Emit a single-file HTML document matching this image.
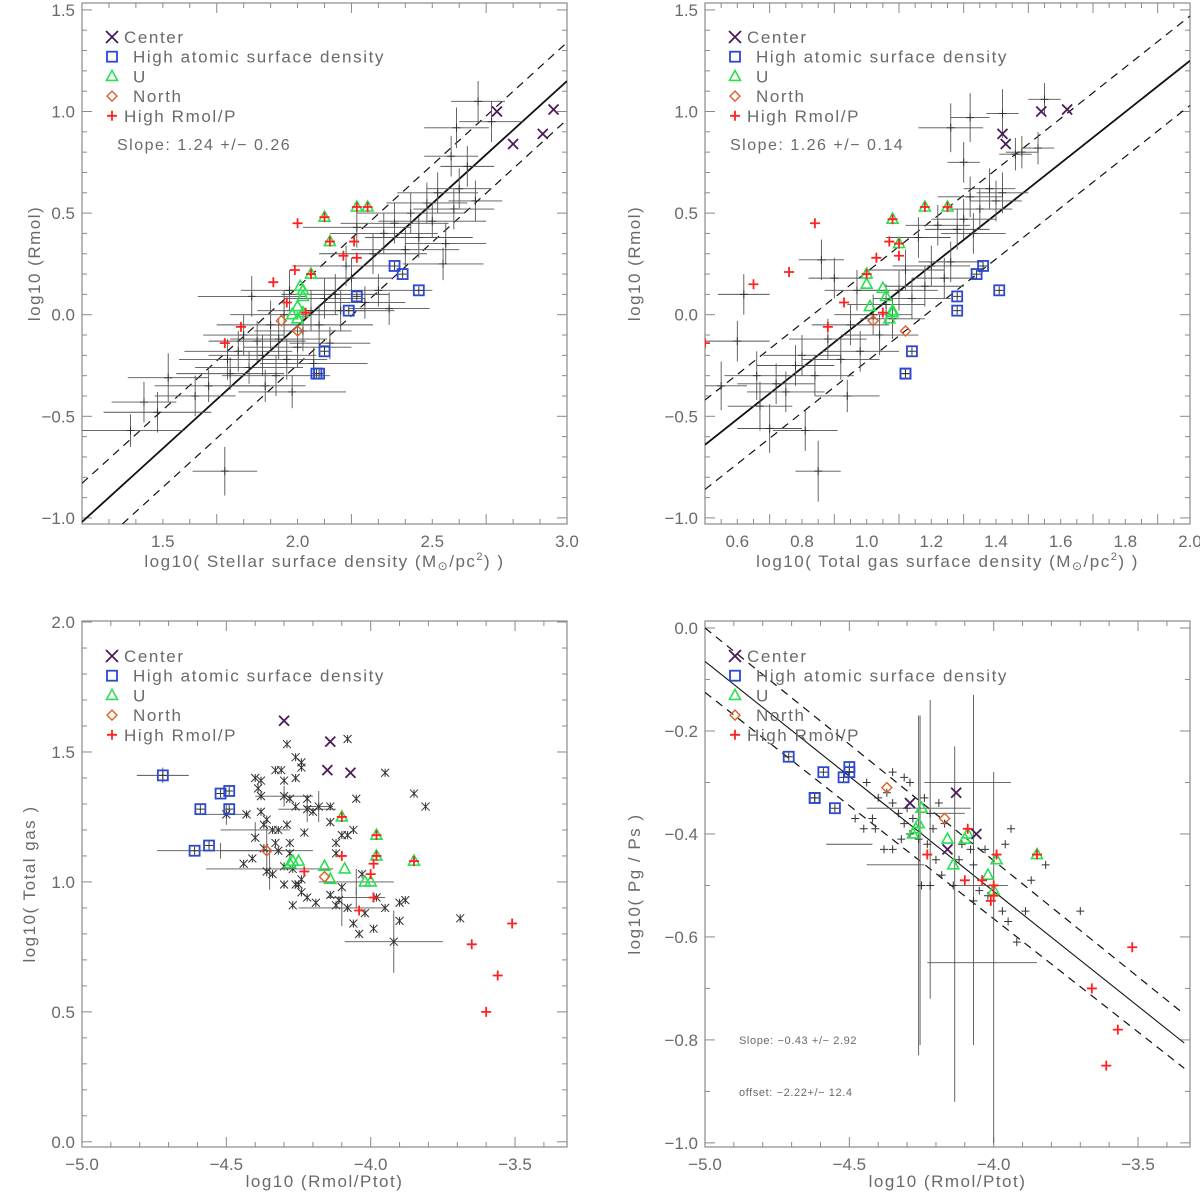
<!DOCTYPE html>
<html><head><meta charset="utf-8"><style>
html,body{margin:0;padding:0;background:#fff}
svg{display:block}
text{font-family:"Liberation Sans",sans-serif;fill:#6a6a6a}
</style></head><body>
<svg id="fig" width="1200" height="1194" viewBox="0 0 1200 1194" xmlns="http://www.w3.org/2000/svg"></svg>
<script>
// ---------- Panel A: Rmol vs stellar surface density ----------
const aGray=[[1.38,-0.57,0.2,0.08],[1.52,-0.31,0.15,0.12],[1.48,-0.48,0.2,0.1],[1.43,-0.43,0.12,0.1],[1.73,-0.77,0.12,0.12],[1.62,-0.40,0.15,0.1],[1.67,-0.35,0.2,0.08],[1.74,-0.22,0.18,0.1],[1.75,-0.29,0.2,0.08],[1.78,-0.18,0.2,0.1],[1.80,-0.10,0.15,0.1],[1.83,0.09,0.2,0.1],[1.82,-0.26,0.2,0.08],[1.85,-0.13,0.18,0.1],[1.87,-0.20,0.2,0.1],[1.88,-0.35,0.15,0.08],[1.90,-0.05,0.2,0.12],[1.92,-0.30,0.2,0.1],[1.93,-0.12,0.18,0.1],[1.95,0.00,0.2,0.12],[1.96,-0.22,0.15,0.1],[1.97,0.12,0.18,0.1],[1.98,-0.38,0.2,0.08],[2.00,-0.16,0.2,0.1],[2.02,-0.08,0.18,0.1],[2.05,0.02,0.2,0.1],[2.06,-0.24,0.2,0.08],[2.08,-0.05,0.2,0.1],[2.10,0.08,0.15,0.1],[2.12,-0.14,0.15,0.08],[2.14,0.10,0.2,0.1],[2.16,0.02,0.2,0.1],[2.18,0.24,0.2,0.1],[2.20,0.18,0.15,0.1],[2.22,0.43,0.2,0.1],[2.25,0.06,0.15,0.08],[2.28,0.30,0.2,0.1],[2.30,0.12,0.2,0.08],[2.32,0.40,0.2,0.1],[2.34,0.03,0.15,0.08],[2.36,0.45,0.2,0.1],[2.40,0.32,0.2,0.1],[2.42,0.50,0.2,0.1],[2.45,0.38,0.2,0.1],[2.48,0.55,0.15,0.1],[2.50,0.46,0.2,0.08],[2.52,0.60,0.15,0.1],[2.54,0.25,0.15,0.08],[2.55,0.35,0.15,0.1],[2.58,0.52,0.15,0.1],[2.60,0.62,0.12,0.1],[2.57,0.78,0.1,0.1],[2.59,0.92,0.12,0.1],[2.63,0.73,0.1,0.1],[2.67,1.05,0.1,0.1],[2.72,0.95,0.12,0.1],[2.66,0.56,0.1,0.1]];
const aCenter=[[2.74,1.00],[2.80,0.84],[2.91,0.89],[2.95,1.01]];
const aBlue=[[2.36,0.24],[2.39,0.20],[2.45,0.12],[2.22,0.09],[2.19,0.02],[2.10,-0.18],[2.07,-0.29],[2.08,-0.29]];
const aGreen=[[2.10,0.48],[2.22,0.53],[2.26,0.53],[2.12,0.36],[2.05,0.20],[2.01,0.14],[2.02,0.12],[2.00,0.04],[2.02,0.09],[1.98,0.00],[2.02,0.01],[2.00,-0.02]];
const aOrange=[[1.94,-0.03],[2.00,-0.08]];
const aRed=[[2.00,0.45],[2.21,0.36],[2.17,0.29],[2.22,0.28],[1.99,0.22],[1.91,0.16],[1.96,0.06],[1.79,-0.06],[1.73,-0.14],[2.05,0.20],[2.10,0.48],[2.22,0.53],[2.26,0.53],[2.12,0.36],[2.03,0.01]];
const aFit=[[1.2,-1.02],[3.0,1.15]];
const aFitHi=[[1.2,-0.83],[3.0,1.34]];
const aFitLo=[[1.35,-1.03],[3.0,0.96]];
const aXTicks=["1.5","2.0","2.5","3.0"];
const aYTicks=["-1.0","-0.5","0.0","0.5","1.0","1.5"];

// ---------- Panel B: Rmol vs total gas ----------
const bGray=[[0.55,-0.35,0.08,0.12],[0.60,-0.13,0.1,0.1],[0.62,0.10,0.08,0.1],[0.66,-0.30,0.1,0.12],[0.67,-0.45,0.1,0.12],[0.70,-0.56,0.1,0.12],[0.72,-0.34,0.12,0.1],[0.75,-0.38,0.12,0.1],[0.78,-0.25,0.12,0.1],[0.80,-0.20,0.12,0.1],[0.81,-0.57,0.1,0.1],[0.84,-0.30,0.12,0.1],[0.85,-0.77,0.07,0.15],[0.86,0.27,0.07,0.1],[0.88,-0.12,0.12,0.1],[0.90,0.18,0.08,0.1],[0.92,-0.22,0.12,0.1],[0.94,-0.40,0.1,0.08],[0.95,-0.05,0.12,0.1],[0.97,0.12,0.1,0.1],[0.98,-0.18,0.12,0.1],[1.02,0.00,0.12,0.1],[1.04,-0.10,0.12,0.1],[1.06,0.05,0.12,0.1],[1.08,-0.02,0.1,0.1],[1.10,0.12,0.12,0.1],[1.12,0.22,0.12,0.1],[1.14,0.08,0.12,0.1],[1.16,0.38,0.1,0.1],[1.18,0.14,0.12,0.1],[1.20,0.24,0.12,0.1],[1.22,0.44,0.1,0.1],[1.24,0.18,0.1,0.1],[1.26,0.26,0.1,0.1],[1.28,0.42,0.1,0.1],[1.30,0.47,0.1,0.1],[1.32,0.58,0.1,0.1],[1.33,0.40,0.1,0.1],[1.35,0.52,0.1,0.1],[1.38,0.62,0.08,0.1],[1.40,0.56,0.08,0.1],[1.42,0.60,0.08,0.1],[1.30,0.75,0.05,0.1],[1.32,0.97,0.06,0.12],[1.26,0.92,0.1,0.12],[1.42,0.99,0.05,0.12],[1.48,0.80,0.05,0.08],[1.55,1.06,0.05,0.08],[1.53,0.82,0.05,0.08],[1.46,0.79,0.05,0.08]];
const bCenter=[[1.42,0.89],[1.43,0.84],[1.54,1.00],[1.62,1.01]];
const bBlue=[[1.36,0.24],[1.34,0.20],[1.41,0.12],[1.28,0.09],[1.28,0.02],[1.14,-0.18],[1.12,-0.29],[1.12,-0.29]];
const bGreen=[[1.08,0.47],[1.18,0.53],[1.25,0.53],[1.10,0.35],[1.00,0.20],[1.00,0.15],[1.05,0.13],[1.06,0.09],[1.01,0.04],[1.08,0.01],[1.07,-0.02],[1.08,0.02]];
const bOrange=[[1.02,-0.03],[1.12,-0.08]];
const bRed=[[0.84,0.45],[0.76,0.21],[0.65,0.15],[1.07,0.36],[1.10,0.29],[1.03,0.28],[1.00,0.20],[0.93,0.06],[0.88,-0.06],[1.05,0.01],[1.08,0.47],[1.18,0.53],[1.25,0.53],[1.10,0.35],[0.50,-0.14]];
const bFit=[[0.5,-0.64],[2.0,1.25]];
const bFitHi=[[0.5,-0.42],[2.0,1.47]];
const bFitLo=[[0.5,-0.86],[2.0,1.03]];
const bXTicks=["0.6","0.8","1.0","1.2","1.4","1.6","1.8","2.0"];

// ---------- Panel C: total gas vs Rmol/Ptot ----------
const cGray=[[-4.29,1.53],[-4.08,1.55],[-3.95,1.42],[-4.26,1.48],[-4.24,1.46],[-4.24,1.44],[-4.33,1.43],[-4.31,1.43],[-4.40,1.40],[-4.38,1.39],[-4.30,1.39],[-4.26,1.40],[-4.39,1.36],[-4.38,1.33],[-4.30,1.33],[-4.28,1.32],[-4.22,1.32],[-3.85,1.34],[-3.81,1.29],[-4.05,1.32],[-4.14,1.29],[-4.26,1.29],[-4.22,1.28],[-4.18,1.29],[-4.20,1.27],[-4.38,1.27],[-4.43,1.26],[-4.50,1.26],[-4.36,1.24],[-4.37,1.22],[-4.29,1.22],[-4.14,1.23],[-4.06,1.20],[-4.34,1.20],[-4.32,1.20],[-4.23,1.19],[-4.40,1.17],[-4.10,1.18],[-4.08,1.18],[-4.33,1.15],[-4.28,1.15],[-4.12,1.15],[-4.37,1.13],[-4.32,1.12],[-4.28,1.11],[-4.12,1.11],[-4.41,1.09],[-4.44,1.07],[-4.30,1.06],[-4.27,1.05],[-4.36,1.04],[-4.34,1.03],[-4.24,1.01],[-4.30,0.99],[-4.26,0.99],[-4.25,0.99],[-4.24,0.96],[-4.22,0.94],[-4.14,0.95],[-4.11,0.93],[-4.10,0.98],[-4.27,0.91],[-4.19,0.92],[-4.12,0.91],[-4.08,0.90],[-4.03,1.03],[-4.02,0.88],[-3.98,0.94],[-3.95,0.90],[-3.90,0.92],[-3.88,0.93],[-3.90,0.85],[-4.06,0.84],[-4.04,0.80],[-3.99,0.82],[-3.92,0.77],[-3.69,0.86]];
const cErr=[[-4.72,1.41,0.09,0.03],[-4.35,1.05,0.22,0.08],[-4.30,1.33,0.10,0.04],[-4.22,1.28,0.10,0.05],[-4.40,1.20,0.12,0.03],[-4.36,1.12,0.16,0.10],[-4.52,1.12,0.22,0.03],[-4.05,1.00,0.13,0.05],[-3.92,0.77,0.17,0.12],[-4.10,0.90,0.15,0.07],[-4.05,0.94,0.10,0.04],[-4.50,1.26,0.08,0.04],[-4.18,1.29,0.05,0.06]];
const cCenter=[[-4.30,1.62],[-4.14,1.54],[-4.15,1.43],[-4.07,1.42]];
const cBlue=[[-4.72,1.41],[-4.52,1.34],[-4.49,1.35],[-4.59,1.28],[-4.49,1.28],[-4.61,1.12],[-4.56,1.14]];
const cGreen=[[-4.10,1.25],[-3.98,1.18],[-3.98,1.10],[-3.85,1.08],[-4.27,1.08],[-4.25,1.08],[-4.28,1.07],[-4.16,1.06],[-4.09,1.05],[-4.14,1.01],[-4.02,1.00],[-4.00,1.00]];
const cOrange=[[-4.36,1.12],[-4.16,1.02]];
const cRed=[[-4.10,1.10],[-3.99,1.07],[-4.00,1.03],[-3.99,0.94],[-4.04,0.89],[-4.23,1.04],[-3.65,0.76],[-3.51,0.84],[-3.56,0.64],[-3.60,0.50],[-4.10,1.25],[-3.98,1.18],[-3.98,1.10],[-3.85,1.08]];
const cXTicks=["-5.0","-4.5","-4.0","-3.5"];
const cYTicks=["0.0","0.5","1.0","1.5","2.0"];

// ---------- Panel D: Pg/Ps vs Rmol/Ptot ----------
const dGray=[[-4.44,-0.30],[-4.40,-0.33],[-4.42,-0.37],[-4.37,-0.32],[-4.35,-0.34],[-4.33,-0.36],[-4.31,-0.29],[-4.29,-0.30],[-4.35,-0.28],[-4.30,-0.35],[-4.28,-0.37],[-4.45,-0.39],[-4.41,-0.39],[-4.48,-0.37],[-4.38,-0.43],[-4.35,-0.43],[-4.32,-0.41],[-4.29,-0.40],[-4.31,-0.38],[-4.26,-0.41],[-4.24,-0.33],[-4.22,-0.36],[-4.21,-0.39],[-4.23,-0.42],[-4.20,-0.45],[-4.18,-0.48],[-4.22,-0.50],[-4.25,-0.50],[-4.12,-0.45],[-4.11,-0.42],[-4.08,-0.43],[-4.07,-0.46],[-4.05,-0.51],[-4.07,-0.53],[-4.03,-0.43],[-3.96,-0.42],[-3.94,-0.39],[-3.97,-0.55],[-3.95,-0.57],[-3.92,-0.61],[-3.89,-0.55],[-3.87,-0.49],[-3.82,-0.46],[-3.70,-0.55],[-4.02,-0.52],[-4.14,-0.50],[-4.17,-0.38],[-4.19,-0.34]];
const dErr=[[-4.26,-0.50,0,0.33],[-4.255,-0.49,0,0.32],[-4.22,-0.43,0,0.29],[-4.135,-0.575,0,0.345],[-4.09,-0.30,0.15,0],[-4.07,-0.47,0,0.34],[-4.00,-0.64,0,0.36],[-4.04,-0.65,0.19,0],[-4.26,-0.35,0.18,0],[-4.16,-0.36,0.06,0],[-4.34,-0.46,0.10,0],[-4.50,-0.42,0.08,0],[-4.05,-0.50,0.10,0]];
const dCenter=[[-4.29,-0.34],[-4.13,-0.32],[-4.16,-0.43],[-4.06,-0.40]];
const dBlue=[[-4.71,-0.25],[-4.59,-0.28],[-4.52,-0.29],[-4.50,-0.27],[-4.50,-0.28],[-4.62,-0.33],[-4.62,-0.33],[-4.55,-0.35]];
const dGreen=[[-4.25,-0.35],[-4.26,-0.38],[-4.27,-0.39],[-4.28,-0.40],[-4.16,-0.41],[-4.10,-0.41],[-4.09,-0.40],[-4.14,-0.46],[-4.02,-0.48],[-3.99,-0.45],[-3.85,-0.44],[-4.00,-0.51]];
const dOrange=[[-4.37,-0.31],[-4.17,-0.37]];
const dRed=[[-4.23,-0.44],[-4.09,-0.39],[-4.10,-0.49],[-4.04,-0.49],[-4.00,-0.50],[-4.00,-0.52],[-4.01,-0.53],[-3.99,-0.44],[-3.85,-0.44],[-3.66,-0.70],[-3.52,-0.62],[-3.57,-0.78],[-3.61,-0.85]];
const dFit=[[-5.0,-0.065],[-3.34,-0.806]];
const dFitHi=[[-5.0,0.0],[-3.34,-0.75]];
const dFitLo=[[-5.0,-0.125],[-3.34,-0.855]];
const dYTicks=["-1.0","-0.8","-0.6","-0.4","-0.2","0.0"];

const NS="http://www.w3.org/2000/svg";
const svg=document.getElementById('fig');
function el(tag,attrs,parent){const e=document.createElementNS(NS,tag);for(const k in attrs)e.setAttribute(k,attrs[k]);(parent||svg).appendChild(e);return e;}
const COL={c:"#4a1a5a",b:"#2a48d0",g:"#28e050",o:"#e0602a",r:"#ff2020",k:"#3a3a3a"};

function panel(P){
  const g=el('g',{});
  
  
  const X=v=>P.l+(v-P.x0)/(P.x1-P.x0)*(P.r-P.l);
  const Y=v=>P.b-(v-P.y0)/(P.y1-P.y0)*(P.b-P.t);
  const fr=el('rect',{x:P.l,y:P.t,width:P.r-P.l,height:P.b-P.t,fill:'none',stroke:'#8a8a8a','stroke-width':1.2},g);
  
  
  const ax=el('g',{stroke:'#8a8a8a','stroke-width':1},g);
  
  
  for(let i=0;;i++){const v=P.xm0+i*P.xmin;if(v>P.x1+1e-6)break;if(v<P.x0-1e-6)continue;
    const major=Math.abs(Math.round((v-P.xm0)/P.xmaj)*P.xmaj-(v-P.xm0))<1e-6;const L=major?10:5;const x=X(v);
    el('line',{x1:x,x2:x,y1:P.b,y2:P.b-L},ax);el('line',{x1:x,x2:x,y1:P.t,y2:P.t+L},ax);}
  for(let i=0;;i++){const v=P.ym0+i*P.ymin;if(v>P.y1+1e-6)break;if(v<P.y0-1e-6)continue;
    const major=Math.abs(Math.round((v-P.ym0)/P.ymaj)*P.ymaj-(v-P.ym0))<1e-6;const L=major?10:5;const y=Y(v);
    el('line',{x1:P.l,x2:P.l+L,y1:y,y2:y},ax);el('line',{x1:P.r,x2:P.r-L,y1:y,y2:y},ax);}
  P.xt.forEach(s=>{const t=el('text',{x:X(parseFloat(s)),y:P.b+23,'text-anchor':'middle','font-size':17},g);t.textContent=s.replace('-','\u2212');
    });
  P.yt.forEach(s=>{const t=el('text',{x:P.l-7,y:Y(parseFloat(s))+6,'text-anchor':'end','font-size':17},g);t.textContent=s.replace('-','\u2212');
    });
  const xt=el('text',{x:(P.l+P.r)/2,y:P.b+P.tty,'text-anchor':'middle','font-size':17,'letter-spacing':1.5},g);xt.innerHTML=P.xtitle;
  
  const yc=(P.t+P.b)/2;const yt=el('text',{x:P.yx,y:yc,'text-anchor':'middle','font-size':17,'letter-spacing':1.5,transform:`rotate(-90 ${P.yx} ${yc})`},g);yt.textContent=P.ytitle;
  
  const cid='clip'+P.name;const cp=el('clipPath',{id:cid},g);el('rect',{x:P.l,y:P.t,width:P.r-P.l,height:P.b-P.t},cp);
  const d=el('g',{'clip-path':`url(#${cid})`},g);
  
  function fit(arr,dash,w,nm){if(!arr)return;const ln=el('line',{x1:X(arr[0][0]),y1:Y(arr[0][1]),x2:X(arr[1][0]),y2:Y(arr[1][1]),stroke:'#111','stroke-width':w,'stroke-dasharray':dash},d);
    }
  fit(P.fit,'none',P.fitw,'fit-line');fit(P.hi,'8 6',1.2,'fit-upper-bound');fit(P.lo,'8 6',1.2,'fit-lower-bound');
  const eg=el('g',{stroke:'#555','stroke-width':0.9},d);
  
  (P.err||[]).forEach(p=>{if(p[2])el('line',{x1:X(p[0]-p[2]),x2:X(p[0]+p[2]),y1:Y(p[1]),y2:Y(p[1])},eg);
    if(p[3])el('line',{x1:X(p[0]),x2:X(p[0]),y1:Y(p[1]-p[3]),y2:Y(p[1]+p[3])},eg);});
  const pg=el('g',{stroke:'#333','stroke-width':1},d);
  
  P.gray.forEach(p=>{const x=X(p[0]),y=Y(p[1]);
    if(P.star){el('path',{d:`M${x-4} ${y-4}L${x+4} ${y+4}M${x-4} ${y+4}L${x+4} ${y-4}M${x} ${y-4}L${x} ${y+4}`},pg);}
    else{el('path',{d:`M${x-4} ${y}L${x+4} ${y}M${x} ${y-4}L${x} ${y+4}`},pg);}});
  function mk(kind,x,y,parent,s){s=s||5;
    if(kind==='c')el('path',{d:`M${x-s} ${y-s}L${x+s} ${y+s}M${x-s} ${y+s}L${x+s} ${y-s}`,stroke:COL.c,'stroke-width':1.8,fill:'none'},parent);
    if(kind==='b')el('rect',{x:x-5,y:y-5,width:10,height:10,stroke:COL.b,'stroke-width':1.8,fill:'none'},parent);
    if(kind==='g')el('path',{d:`M${x-5.5} ${y+4}L${x+5.5} ${y+4}L${x} ${y-6}Z`,stroke:COL.g,'stroke-width':1.6,fill:'none'},parent);
    if(kind==='o')el('path',{d:`M${x-5} ${y}L${x} ${y-5}L${x+5} ${y}L${x} ${y+5}Z`,stroke:COL.o,'stroke-width':1.4,fill:'none'},parent);
    if(kind==='r')el('path',{d:`M${x-5} ${y}L${x+5} ${y}M${x} ${y-5}L${x} ${y+5}`,stroke:COL.r,'stroke-width':1.8,fill:'none'},parent);}
  [['b',P.blue,'blue-square-points'],['g',P.green,'green-triangle-points'],['o',P.orange,'orange-diamond-points'],['r',P.red,'red-plus-points'],['c',P.center,'center-x-points']].forEach(([k,arr,nm])=>{
    const sg=el('g',{},d);
    arr.forEach(p=>{const x=X(p[0]),y=Y(p[1]);mk(k,x,y,sg);if(k==='b')el('path',{d:`M${x-4} ${y}L${x+4} ${y}M${x} ${y-4}L${x} ${y+4}`,stroke:'#333','stroke-width':1},sg);});});
  const lg=el('g',{},g);
  const items=[['c','Center',0],['b','High atomic surface density',9],['g','U',9],['o','North',9],['r','High Rmol/P',0]];
  items.forEach((it,i)=>{const y=P.t+P.leg+i*19.7;const e=el('g',{},lg);
    mk(it[0],P.l+30,y,e,6);const t=el('text',{x:P.l+42+it[2],y:y+6,'font-size':17,'letter-spacing':1.6},e);t.textContent=it[1];});
  (P.notes||[]).forEach(n=>{const t=el('text',{x:n[0],y:n[1],'font-size':n[3],'letter-spacing':n[4]},g);t.textContent=n[2];
    });
}

panel({name:'panel-stellar',l:82,r:567,t:3,b:524,x0:1.2,x1:3.0,y0:-1.03,y1:1.534,xm0:1.2,xmin:0.1,xmaj:0.5,ym0:-1.0,ymin:0.1,ymaj:0.5,tty:43,
  xt:aXTicks,yt:aYTicks,xtitle:'log10( Stellar surface density (M<tspan font-size="12" dy="3">\u2299</tspan><tspan dy="-3">/pc</tspan><tspan font-size="11" dy="-7">2</tspan><tspan dy="7">) )</tspan>',ytitle:'log10 (Rmol)',yx:40,
  gray:aGray,err:aGray,center:aCenter,blue:aBlue,green:aGreen,orange:aOrange,red:aRed,fit:aFit,hi:aFitHi,lo:aFitLo,fitw:1.8,leg:34,
  notes:[[117,150,'Slope: 1.24 +/\u2212 0.26',16,1.5]]});
panel({name:'panel-total-gas',l:705,r:1190,t:3,b:524,x0:0.5,x1:2.0,y0:-1.03,y1:1.534,xm0:0.5,xmin:0.05,xmaj:0.2,ym0:-1.0,ymin:0.1,ymaj:0.5,tty:43,
  xt:bXTicks,yt:aYTicks,xtitle:'log10( Total gas surface density (M<tspan font-size="12" dy="3">\u2299</tspan><tspan dy="-3">/pc</tspan><tspan font-size="11" dy="-7">2</tspan><tspan dy="7">) )</tspan>',ytitle:'log10 (Rmol)',yx:640,
  gray:bGray,err:bGray,center:bCenter,blue:bBlue,green:bGreen,orange:bOrange,red:bRed,fit:bFit,hi:bFitHi,lo:bFitLo,fitw:1.8,leg:34,
  notes:[[730,150,'Slope: 1.26 +/\u2212 0.14',16,1.5]]});
panel({name:'panel-gas-vs-rmolp',l:82,r:567,t:621,b:1147,x0:-5.0,x1:-3.32,y0:-0.02,y1:2.004,xm0:-5.0,xmin:0.1,xmaj:0.5,ym0:0.0,ymin:0.1,ymaj:0.5,tty:40,
  xt:cXTicks,yt:cYTicks,xtitle:'log10 (Rmol/Ptot)',ytitle:'log10( Total gas )',yx:35,star:true,
  gray:cGray,err:cErr,center:cCenter,blue:cBlue,green:cGreen,orange:cOrange,red:cRed,leg:35});
panel({name:'panel-pressure-ratio',l:705,r:1190,t:621,b:1147,x0:-5.0,x1:-3.32,y0:-1.008,y1:0.0136,xm0:-5.0,xmin:0.1,xmaj:0.5,ym0:-1.0,ymin:0.1,ymaj:0.2,tty:40,
  xt:cXTicks,yt:dYTicks,xtitle:'log10 (Rmol/Ptot)',ytitle:'log10( Pg  /  Ps )',yx:640,
  gray:dGray,err:dErr,center:dCenter,blue:dBlue,green:dGreen,orange:dOrange,red:dRed,fit:dFit,hi:dFitHi,lo:dFitLo,fitw:1.1,leg:35,
  notes:[[739,1044,'Slope: \u22120.43 +/\u2212 2.92',11,0.6],[739,1096,'offset: \u22122.22+/\u2212 12.4',11,0.6]]});
</script>
</body></html>
